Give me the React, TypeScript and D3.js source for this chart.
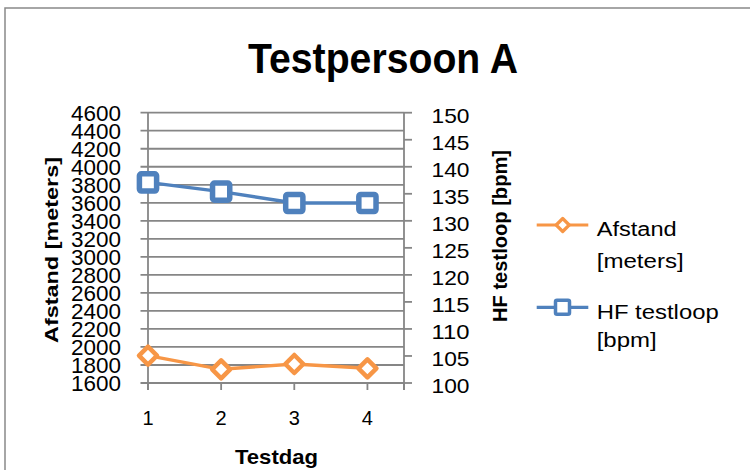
import React from "react";
import * as d3 from "d3";

const title = "Testpersoon A";
const days = [1, 2, 3, 4];
const afstand = [1903, 1752, 1811, 1763];
const hf = [137.1, 135.4, 133.3, 133.3];
const leftTicks = d3.range(1600, 4601, 200);
const rightTicks = d3.range(100, 151, 5);
const xTicks = [1, 2, 3, 4, 4.5];
const xTickLabels = ["1", "2", "3", "4"];
const seriesNames = [["Afstand", "[meters]"], ["HF testloop", "[bpm]"]];
const yLeftTitle = "Afstand [meters]";
const yRightTitle = "HF testloop [bpm]";
const xTitle = "Testdag";

const ORANGE = "#F79646";
const BLUE = "#4F81BD";
const GRID = "#868686";
const FONT = "'Liberation Sans', Arial, sans-serif";

export default function App() {
  const W = 750, H = 470;
  const left = 148, right = 404, top = 112.7, bottom = 383;
  const x = d3.scaleLinear().domain([1, 4.5]).range([left, right]);
  const yL = d3.scaleLinear().domain([1600, 4600]).range([bottom, top]);
  const yR = d3.scaleLinear().domain([100, 150]).range([bottom, top]);

  const lineL = d3.line<number>().x((_, i) => x(days[i])).y((d) => yL(d));
  const lineR = d3.line<number>().x((_, i) => x(days[i])).y((d) => yR(d));

  const diamond = (cx: number, cy: number, r: number) =>
    `M${cx},${cy - r}L${cx + r},${cy}L${cx},${cy + r}L${cx - r},${cy}Z`;

  return (
    <svg width={W} height={H} style={{ position: "absolute", left: 0, top: 0, background: "#fff" }} fontFamily={FONT}>
      <rect x={0} y={0} width={W} height={H} fill="#fff" />
      <rect x={5} y={8} width={W + 20} height={H + 20} fill="#fff" stroke="#898989" strokeWidth={1.5} />
      <text x={383} y={73.3} textAnchor="middle" fontSize={43} fontWeight="bold" textLength={270} lengthAdjust="spacingAndGlyphs">{title}</text>

      {/* gridlines & left ticks */}
      {leftTicks.map((t) => (
        <line key={"g" + t} x1={left - 7.5} x2={right} y1={yL(t)} y2={yL(t)} stroke={GRID} strokeWidth={1.8} />
      ))}
      {leftTicks.map((t) => (
        <text key={"lt" + t} x={121} y={yL(t) + 8} textAnchor="end" fontSize={22} textLength={50} lengthAdjust="spacingAndGlyphs">{t}</text>
      ))}
      {/* left axis */}
      <line x1={left} x2={left} y1={top} y2={bottom + 7} stroke={GRID} strokeWidth={1.8} />
      {/* right axis */}
      <line x1={right} x2={right} y1={top} y2={bottom + 7} stroke={GRID} strokeWidth={1.8} />
      {rightTicks.map((t) => (
        <line key={"rt" + t} x1={right} x2={right + 8} y1={yR(t)} y2={yR(t)} stroke={GRID} strokeWidth={1.8} />
      ))}
      {rightTicks.map((t) => (
        <text key={"rl" + t} x={431.5} y={yR(t) + 10} textAnchor="start" fontSize={21} textLength={38} lengthAdjust="spacingAndGlyphs">{t}</text>
      ))}
      {/* x ticks */}
      {xTicks.map((t) => (
        <line key={"xt" + t} x1={x(t)} x2={x(t)} y1={bottom} y2={bottom + 7} stroke={GRID} strokeWidth={1.8} />
      ))}
      {xTickLabels.map((l, i) => (
        <text key={"xl" + l} x={x(days[i])} y={425} textAnchor="middle" fontSize={20}>{l}</text>
      ))}

      {/* axis titles */}
      <text transform="translate(58,250) rotate(-90)" textAnchor="middle" fontSize={18.5} fontWeight="bold" textLength={186} lengthAdjust="spacingAndGlyphs">{yLeftTitle}</text>
      <text transform="translate(506.5,236) rotate(-90)" textAnchor="middle" fontSize={20} fontWeight="bold" textLength={172} lengthAdjust="spacingAndGlyphs">{yRightTitle}</text>
      <text x={276.5} y={464} textAnchor="middle" fontSize={21} fontWeight="bold" textLength={83} lengthAdjust="spacingAndGlyphs">{xTitle}</text>

      {/* series */}
      <path d={lineR(hf) || ""} fill="none" stroke={BLUE} strokeWidth={3.4} />
      {hf.map((v, i) => (
        <rect key={"s" + i} x={x(days[i]) - 8.6} y={yR(v) - 8.6} width={17.2} height={17.2} rx={2} fill="#fff" stroke={BLUE} strokeWidth={5.5} />
      ))}
      <path d={lineL(afstand) || ""} fill="none" stroke={ORANGE} strokeWidth={3.4} />
      {afstand.map((v, i) => (
        <path key={"d" + i} d={diamond(x(days[i]), yL(v), 9)} fill="#fff" stroke={ORANGE} strokeWidth={4.5} strokeLinejoin="round" />
      ))}

      {/* legend */}
      <line x1={536.7} x2={588.3} y1={225} y2={225} stroke={ORANGE} strokeWidth={3.2} />
      <path d={diamond(562.7, 225, 6.5)} fill="#fff" stroke={ORANGE} strokeWidth={3.2} strokeLinejoin="round" />
      <text x={596.7} y={236} fontSize={20} textLength={80} lengthAdjust="spacingAndGlyphs">{seriesNames[0][0]}</text>
      <text x={596.7} y={268.3} fontSize={20} textLength={87} lengthAdjust="spacingAndGlyphs">{seriesNames[0][1]}</text>

      <line x1={536.7} x2={588.3} y1={307.3} y2={307.3} stroke={BLUE} strokeWidth={3.2} />
      <rect x={562.5 - 7} y={307.3 - 7} width={14} height={14} rx={1.5} fill="#fff" stroke={BLUE} strokeWidth={3.5} />
      <text x={596.7} y={319} fontSize={20} textLength={122} lengthAdjust="spacingAndGlyphs">{seriesNames[1][0]}</text>
      <text x={596.7} y={346.7} fontSize={20} textLength={60} lengthAdjust="spacingAndGlyphs">{seriesNames[1][1]}</text>
    </svg>
  );
}
